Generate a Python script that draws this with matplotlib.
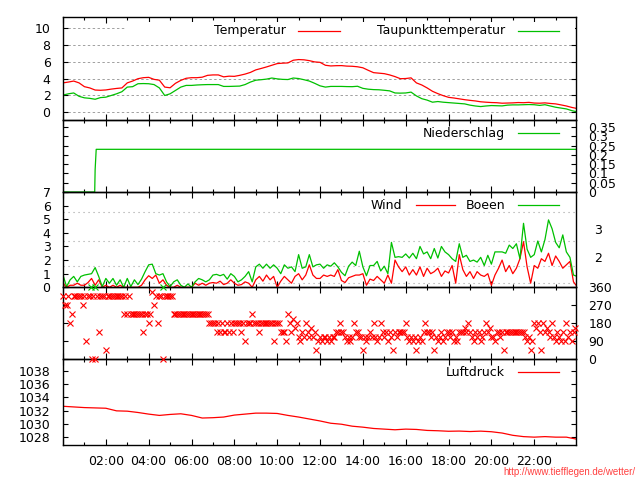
import matplotlib
matplotlib.use("Agg")
import matplotlib.pyplot as plt
from matplotlib.lines import Line2D
from matplotlib.patches import Rectangle
from matplotlib.ticker import FixedLocator, FuncFormatter
import numpy as np

RED = "#ff0000"
GREEN = "#00c000"
GRID = "#a0a0a0"

# Temperatur / Taupunkt, 15-Minuten-Werte 00:00 .. 24:00
temp_time = np.arange(97) / 4
temperatur = [
    3.50, 3.60, 3.72, 3.50, 3.05, 2.90, 2.65, 2.62, 2.66, 2.76, 2.84, 2.90,
    3.50, 3.72, 4.00, 4.12, 4.16, 3.92, 3.82, 3.00, 2.92, 3.45, 3.80, 4.05,
    4.12, 4.12, 4.18, 4.40, 4.45, 4.45, 4.22, 4.30, 4.28, 4.40, 4.55, 4.75,
    5.05, 5.22, 5.40, 5.60, 5.80, 5.85, 5.88, 6.20, 6.28, 6.25, 6.15, 6.00,
    5.95, 5.60, 5.52, 5.55, 5.56, 5.50, 5.48, 5.42, 5.30, 5.00, 4.72, 4.66,
    4.60, 4.45, 4.25, 4.00, 4.02, 4.10, 3.50, 3.25, 2.90, 2.50, 2.22, 1.98,
    1.78, 1.70, 1.60, 1.50, 1.42, 1.35, 1.25, 1.20, 1.16, 1.14, 1.08, 1.10,
    1.12, 1.16, 1.14, 1.18, 1.10, 1.08, 1.12, 1.05, 1.00, 0.88, 0.75, 0.58, 0.45,
]
taupunkt = [
    2.05, 2.20, 2.30, 1.90, 1.72, 1.66, 1.55, 1.75, 1.80, 2.00, 2.20, 2.45,
    3.00, 3.05, 3.40, 3.42, 3.40, 3.30, 2.90, 2.00, 2.20, 2.60, 3.00, 3.20,
    3.20, 3.25, 3.28, 3.30, 3.30, 3.30, 3.08, 3.08, 3.10, 3.12, 3.30, 3.60,
    3.82, 3.88, 3.95, 4.08, 3.98, 3.92, 3.90, 4.08, 4.02, 3.88, 3.72, 3.45,
    3.15, 3.00, 3.08, 3.08, 3.08, 3.06, 3.05, 3.10, 2.85, 2.75, 2.70, 2.68,
    2.62, 2.55, 2.30, 2.28, 2.30, 2.40, 1.95, 1.62, 1.45, 1.20, 1.28, 1.20,
    1.15, 1.10, 1.05, 1.00, 0.85, 0.75, 0.68, 0.75, 0.80, 0.78, 0.76, 0.85,
    0.88, 0.88, 0.90, 0.92, 0.90, 0.82, 0.90, 0.75, 0.60, 0.50, 0.40, 0.20, 0.05,
]

# Niederschlag (Summe)
regen_time = [0.0, 1.48, 1.50, 1.55, 24.0]
niederschlag = [0.0, 0.0, 0.12, 0.23, 0.23]
regen_ticks = [0, 0.05, 0.1, 0.15, 0.2, 0.25, 0.3, 0.35]
regen_labels = ["0", "0.05", "0.1", "0.15", "0.2", "0.25", "0.3", "0.35"]

# Wind / Boeen, 10-Minuten-Werte
wind_time = np.arange(145) / 6
wind = [
    0.30, 0.00, 0.15, 0.15, 0.30, 0.15, 0.15, 0.35, 0.65, 0.15, 0.55, 0.00,
    0.15, 0.00, 0.15, 0.00, 0.15, 0.00, 0.00, 0.00, 0.00, 0.00, 0.15, 0.55,
    0.85, 0.65, 0.90, 0.30, 0.55, 0.15, 0.00, 0.00, 0.15, 0.00, 0.00, 0.00,
    0.00, 0.30, 0.15, 0.30, 0.15, 0.30, 0.35, 0.30, 0.45, 0.20, 0.30, 0.55,
    0.30, 0.15, 0.20, 0.40, 0.30, 0.00, 0.55, 0.80, 0.45, 0.90, 0.55, 0.80,
    0.00, 0.45, 0.80, 0.55, 0.30, 0.80, 1.00, 0.55, 0.90, 1.65, 0.90, 0.65,
    0.65, 0.90, 0.80, 0.90, 0.80, 1.30, 0.50, 0.35, 0.70, 0.80, 0.90, 0.90,
    1.00, 0.15, 0.60, 0.50, 0.80, 0.55, 0.30, 0.90, 0.30, 2.00, 1.50, 1.15,
    1.50, 0.90, 1.30, 0.90, 1.50, 0.80, 1.40, 1.00, 1.15, 1.40, 0.80, 1.20,
    1.05, 1.60, 0.30, 2.40, 1.30, 0.80, 1.15, 0.65, 1.15, 0.90, 0.80, 1.00,
    0.15, 0.90, 1.40, 2.00, 1.15, 1.60, 1.00, 1.40, 2.10, 3.35, 1.50, 0.30,
    1.60, 1.40, 2.10, 1.90, 2.50, 1.60, 2.30, 1.90, 1.40, 1.65, 1.90, 0.40,
    0.05,
]
boeen = [
    0.90, 0.05, 0.55, 0.80, 0.40, 0.80, 0.90, 0.95, 1.00, 1.45, 0.80, 0.05,
    0.65, 0.30, 0.65, 0.15, 0.55, 0.00, 0.65, 0.05, 0.55, 0.20, 0.60, 1.15,
    1.65, 1.70, 1.00, 0.90, 1.00, 0.40, 0.05, 0.40, 0.55, 0.15, 0.00, 0.25,
    0.00, 0.40, 0.65, 0.55, 0.40, 0.55, 0.90, 0.95, 0.85, 0.95, 0.60, 1.00,
    0.80, 0.40, 0.55, 0.80, 1.15, 0.40, 1.50, 1.70, 1.40, 1.70, 1.40, 1.65,
    1.40, 1.00, 1.65, 1.40, 1.50, 1.15, 2.40, 1.40, 1.50, 2.40, 1.50, 1.65,
    1.70, 1.40, 1.65, 1.55, 1.80, 1.50, 1.10, 0.85, 1.55, 1.85, 1.60, 2.65,
    1.50, 0.85, 1.60, 1.60, 1.90, 1.20, 1.55, 1.00, 3.30, 2.20, 2.25, 2.20,
    2.45, 2.15, 2.50, 2.10, 3.00, 2.45, 2.60, 2.10, 2.85, 2.15, 3.00, 2.60,
    2.40, 2.10, 1.90, 3.20, 2.20, 2.35, 1.90, 2.00, 1.85, 2.20, 1.60, 2.35,
    1.70, 2.60, 2.60, 2.60, 2.50, 3.10, 2.85, 3.20, 2.10, 4.70, 2.80, 2.20,
    2.40, 3.40, 2.60, 3.50, 4.95, 4.30, 3.30, 2.90, 3.85, 2.60, 2.20, 0.90,
    0.80,
]
beaufort_grid = [0.3, 1.6, 3.4, 5.5]
beaufort_ticks = [2.25, 4.25]
beaufort_labels = ["2", "3"]

# Windrichtung, 5-Minuten-Werte
dir_time = np.arange(288) / 12
windrichtung = [
    315, 270, 270, 315, 180, 225, 315, 315, 315, 315, 315, 270, 315, 90, 315, 315, 0, 315, 0, 315, 135, 315, 315, 315,
    45, 315, 315, 315, 315, 315, 315, 315, 315, 315, 225, 315, 225, 315, 225, 225, 225, 225, 225, 225, 225, 135, 225, 225,
    180, 225, 337.5, 270, 315, 180, 315, 315, 0, 315, 315, 315, 315, 315, 225, 225, 225, 225, 225, 225, 225, 225, 225, 225,
    225, 225, 225, 225, 225, 225, 225, 225, 225, 225, 180, 180, 180, 180, 135, 180, 135, 180, 135, 135, 180, 135, 180, 135,
    180, 180, 180, 180, 135, 180, 90, 180, 180, 180, 225, 180, 180, 180, 135, 180, 180, 180, 180, 180, 180, 180, 90, 180,
    180, 180, 135, 135, 135, 90, 225, 180, 135, 202.5, 157.5, 180, 112.5, 90, 135, 112.5, 180, 135, 112.5, 157.5, 112.5, 135, 45, 90,
    112.5, 90, 112.5, 112.5, 90, 112.5, 90, 112.5, 112.5, 135, 135, 180, 135, 135, 112.5, 90, 112.5, 90, 112.5, 180, 135, 135, 112.5, 112.5,
    45, 112.5, 90, 112.5, 135, 112.5, 180, 112.5, 90, 112.5, 180, 135, 112.5, 135, 90, 135, 112.5, 45, 135, 112.5, 135, 135, 135, 135,
    180, 112.5, 90, 112.5, 90, 112.5, 45, 90, 112.5, 90, 135, 180, 135, 135, 112.5, 135, 45, 112.5, 90, 112.5, 135, 90, 112.5, 135,
    135, 112.5, 135, 90, 112.5, 90, 135, 135, 135, 157.5, 135, 180, 135, 112.5, 90, 135, 112.5, 135, 90, 112.5, 135, 180, 135, 157.5,
    112.5, 112.5, 90, 135, 135, 112.5, 135, 45, 135, 135, 135, 135, 135, 135, 135, 135, 135, 135, 135, 112.5, 90, 112.5, 45, 90,
    180, 157.5, 180, 135, 45, 180, 135, 157.5, 135, 112.5, 180, 112.5, 90, 135, 112.5, 90, 135, 90, 180, 112.5, 135, 90, 135, 157.5,
]
boeen_dir_time = [1.33, 1.50, 4.67]
boeen_richtung = [360, 360, 360]
dir_ticks = [0, 90, 180, 270, 360]

# Luftdruck, 30-Minuten-Werte
druck_time = np.arange(49) / 2
luftdruck = [
    1032.65, 1032.55, 1032.45, 1032.40, 1032.35, 1031.95, 1031.90, 1031.70, 1031.45, 1031.25, 1031.40, 1031.50,
    1031.25, 1030.85, 1030.90, 1031.00, 1031.30, 1031.45, 1031.60, 1031.60, 1031.55, 1031.25, 1031.00, 1030.70,
    1030.40, 1030.05, 1029.90, 1029.60, 1029.45, 1029.25, 1029.15, 1029.05, 1029.15, 1029.10, 1028.95, 1028.90,
    1028.82, 1028.85, 1028.78, 1028.84, 1028.75, 1028.55, 1028.20, 1028.00, 1027.92, 1028.00, 1027.92, 1027.92,
    1027.60,
]

W, H = 640, 480
plt.rcParams["font.family"] = ["DejaVu Sans"]
plt.rcParams["font.size"] = 9
fig = plt.figure(figsize=(W / 100, H / 100), dpi=100)


def panel(top, bottom):
    ax = fig.add_axes([63 / W, 1 - bottom / H, (576 - 63) / W, (bottom - top) / H])
    ax.set_facecolor("none")
    ax.set_xlim(0, 23.95)
    ax.xaxis.set_major_locator(FixedLocator(list(range(0, 25, 2))))
    ax.xaxis.set_minor_locator(FixedLocator(list(range(0, 25))))
    ax.tick_params(axis="x", which="major", direction="in", length=4.3, width=0.8,
                   top=True, bottom=True, labelbottom=False)
    ax.tick_params(axis="x", which="minor", direction="in", length=2.5, width=0.8,
                   top=True, bottom=True)
    ax.tick_params(axis="y", direction="in", length=3.5, width=0.8, left=True,
                   right=True, labelsize=9, pad=9)
    for s in ax.spines.values():
        s.set_linewidth(1.0)
    ax.set_axisbelow(True)
    return ax


def key(entries, y, x0=None):
    # gnuplot-style key: text right-aligned, sample line right of it
    yf = 1 - y / H
    if x0 is not None:
        fig.add_artist(Rectangle((x0 / W, yf - 9 / H), (575 - x0) / W, 18 / H,
                                 transform=fig.transFigure, facecolor="white",
                                 edgecolor="none", zorder=3))
    for label, color, xr, l0, l1 in entries:
        fig.text(xr / W, yf, label, ha="right", va="center", fontsize=9, zorder=4)
        fig.add_artist(Line2D([l0 / W, l1 / W], [yf, yf], color=color, lw=0.9,
                              transform=fig.transFigure, zorder=4))


# Temperatur
ax_t = panel(17, 120)
ax_t.plot(temp_time, temperatur, color=RED, lw=0.9)
ax_t.plot(temp_time, taupunkt, color=GREEN, lw=0.9)
ax_t.set_ylim(-0.92, 11.35)
ax_t.set_yticks([0, 2, 4, 6, 8, 10])
ax_t.yaxis.grid(True, color=GRID, linestyle=(0, (2.5, 2.5)), linewidth=0.7)
key([("Temperatur", RED, 286, 298, 340),
     ("Taupunkttemperatur", GREEN, 505, 518, 559)], 30.7, x0=125)

# Niederschlag
ax_p = panel(120, 192)
ax_p.plot(regen_time, niederschlag, color=GREEN, lw=0.9)
ax_p.set_ylim(0, 0.388)
ax_p.set_yticks(regen_ticks)
ax_p.set_yticklabels(regen_labels)
ax_p.tick_params(axis="y", labelleft=False, labelright=True)
key([("Niederschlag", GREEN, 505, 518, 559)], 133.3)

# Wind
ax_w = panel(192, 287.3)
for b in beaufort_grid:
    ax_w.axhline(b, color=GRID, linestyle=(0, (1, 3.5)), linewidth=0.8, zorder=0)
ax_w.plot(wind_time, wind, color=RED, lw=0.9)
ax_w.plot(wind_time, boeen, color=GREEN, lw=0.9)
ax_w.set_ylim(0, 7)
ax_w.set_yticks(range(8))
ax_bft = ax_w.twinx()
ax_bft.set_ylim(0, 7)
ax_bft.set_yticks(beaufort_ticks)
ax_bft.set_yticklabels(beaufort_labels)
ax_bft.tick_params(axis="y", length=0, pad=13, labelsize=9)
ax_bft.set_facecolor("none")
for s in ax_bft.spines.values():
    s.set_visible(False)
key([("Wind", RED, 402, 416, 455), ("Boeen", GREEN, 505, 518, 559)], 205.3)

# Windrichtung
ax_d = panel(287.3, 359.3)
ax_d.plot(dir_time, windrichtung, "x", color=RED, ms=5, mew=0.8, clip_on=False, zorder=5)
ax_d.plot(boeen_dir_time, boeen_richtung, "x", color=GREEN, ms=5, mew=0.8, clip_on=False, zorder=5)
ax_d.set_ylim(0, 360)
ax_d.set_yticks(dir_ticks)
ax_d.tick_params(axis="y", labelleft=False, labelright=True)
ax_d.set_zorder(2)

# Luftdruck
ax_l = panel(359.3, 445.3)
ax_l.plot(druck_time, luftdruck, color=RED, lw=0.9)
ax_l.set_ylim(1026.67, 1039.85)
ax_l.set_yticks([1028, 1030, 1032, 1034, 1036, 1038])
ax_l.xaxis.set_major_formatter(FuncFormatter(lambda v, p: f"{int(v):02d}:00" if 0 < v < 24 else ""))
ax_l.tick_params(axis="x", labelbottom=True, labelsize=9, pad=7)
key([("Luftdruck", RED, 505, 518, 559)], 372.3)

fig.text(635 / W, 1 - 471.7 / H, "http://www.tiefflegen.de/wetter/", ha="right", va="center",
         fontsize=7, family="Liberation Sans", color="#ff4040")

fig.savefig("out.png", dpi=100)
